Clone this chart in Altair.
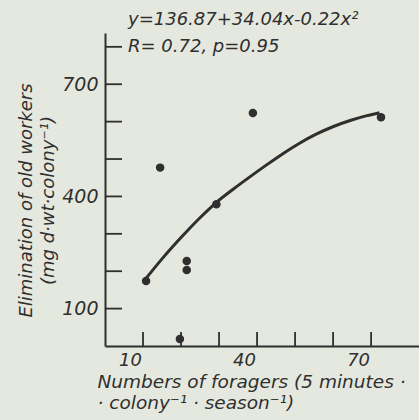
import altair as alt
import pandas as pd

# scatter points (numbers of foragers, elimination of old workers)
px = [10.8, 14.5, 19.7, 21.5, 21.5, 29.3, 38.9, 72.6]
py = [174, 477, 19, 227, 203, 379, 623, 612]

# fitted curve
cx = [10.5, 15, 20, 25, 29.4, 33.8, 38.2, 42.6, 46.9, 51.3, 55.7, 60.1, 64.5, 68.9, 72.2]
cy = [177, 233, 290, 343, 385, 420, 453, 485, 515, 543, 567, 587, 603, 616, 624]

x_ticks = [10, 20, 30, 40, 50, 60, 70]
y_ticks = [100, 200, 300, 400, 500, 600, 700, 800]
x_labels = [10, 40, 70]
y_labels = [100, 400, 700]

title_lines = ["y=136.87+34.04x-0.22x²", "R= 0.72, p=0.95"]
x_title = ["Numbers of foragers (5 minutes ·", "· colony⁻¹ · season⁻¹)"]
y_title = ["Elimination of old workers", "(mg d·wt·colony⁻¹)"]

INK = "#2f2f2f"
FONT = "DejaVu Sans"
W, H = 314, 313

pts = pd.DataFrame({"x": px, "y": py})
curve = pd.DataFrame({"x": cx, "y": cy})
xt = pd.DataFrame({"x": x_ticks})
yt = pd.DataFrame({"y": y_ticks})

xs = alt.Scale(domain=[0, 82.6], nice=False, zero=False)
ys = alt.Scale(domain=[0, 837], nice=False, zero=False)

xaxis = alt.Axis(values=x_labels, ticks=False, grid=False, domainColor=INK, domainWidth=2,
                 labelFont=FONT, labelFontStyle="italic", labelFontSize=18, labelColor=INK,
                 labelPadding=5, labelOffset=-13,
                 title=x_title, titleFont=FONT, titleFontStyle="italic", titleFontWeight="normal",
                 titleFontSize=18.5, titleColor=INK, titleAlign="left", titleAnchor="start",
                 titleBaseline="top", titleX=-8, titleY=26, titleLineHeight=21)
yaxis = alt.Axis(values=y_labels, ticks=False, grid=False, domainColor=INK, domainWidth=2,
                 labelFont=FONT, labelFontStyle="italic", labelFontSize=19, labelColor=INK,
                 labelPadding=7,
                 title=y_title, titleFont=FONT, titleFontStyle="italic", titleFontWeight="normal",
                 titleFontSize=18, titleColor=INK, titleAngle=270, titleAlign="center",
                 titleBaseline="top", titleX=-88, titleY=167, titleLineHeight=22)

base_line = alt.Chart(curve).mark_line(color=INK, strokeWidth=3, interpolate="monotone", clip=True).encode(
    x=alt.X("x:Q", scale=xs, axis=xaxis),
    y=alt.Y("y:Q", scale=ys, axis=yaxis),
)
dots = alt.Chart(pts).mark_circle(color=INK, opacity=1, size=72).encode(
    x=alt.X("x:Q", scale=xs),
    y=alt.Y("y:Q", scale=ys),
)
xtick = alt.Chart(xt).mark_rule(color=INK, strokeWidth=1.8).encode(
    x=alt.X("x:Q", scale=xs), y=alt.value(H), y2=alt.value(H - 14)
)
ytick = alt.Chart(yt).mark_rule(color=INK, strokeWidth=1.8).encode(
    y=alt.Y("y:Q", scale=ys), x=alt.value(0), x2=alt.value(17)
)

chart = alt.layer(base_line, xtick, ytick, dots).properties(
    width=W, height=H,
    autosize=alt.AutoSizeParams(type="none"),
    padding={"left": 105, "top": 33, "right": 0, "bottom": 74},
    background="#e5e8de",
    title=alt.TitleParams(text=title_lines, anchor="start", frame="group", dx=23, dy=0,
                          font=FONT, fontStyle="italic", fontWeight="normal", fontSize=18,
                          color=INK, lineHeight=27, baseline="bottom", offset=-41),
).configure_view(stroke=None)

chart.save("out.html", embed_options={"renderer": "svg", "actions": False})
